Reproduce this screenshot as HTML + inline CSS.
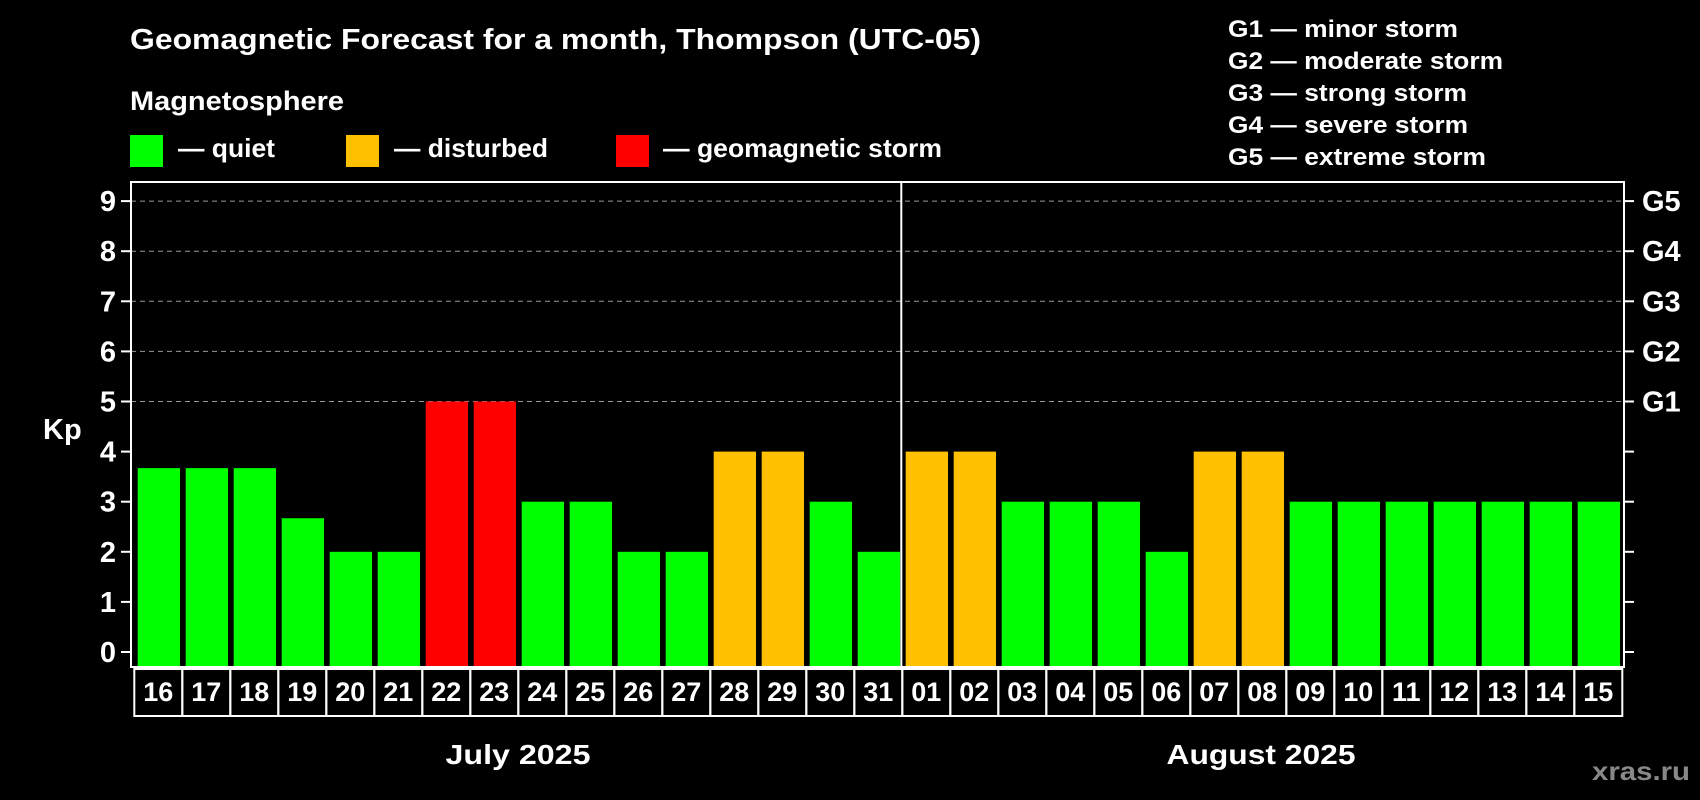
<!DOCTYPE html>
<html><head><meta charset="utf-8"><style>
html,body{margin:0;padding:0;background:#000;}
svg{display:block;font-family:"Liberation Sans",Arial,sans-serif;font-weight:bold;}
</style></head><body>
<svg id="chart" width="1700" height="800" viewBox="0 0 1700 800" xmlns="http://www.w3.org/2000/svg">
<rect width="1700" height="800" fill="#000"/>
<text x="130" y="49" font-size="29" fill="#fff" textLength="851" lengthAdjust="spacingAndGlyphs">Geomagnetic Forecast for a month, Thompson (UTC-05)</text>
<text x="130" y="110" font-size="27" fill="#fff" textLength="214" lengthAdjust="spacingAndGlyphs">Magnetosphere</text>
<g>
<rect x="130" y="135" width="33" height="32" fill="#00ff00"/>
<text x="178" y="157" font-size="26" fill="#fff" textLength="97" lengthAdjust="spacingAndGlyphs">— quiet</text></g>
<g>
<rect x="346" y="135" width="33" height="32" fill="#ffc000"/>
<text x="394" y="157" font-size="26" fill="#fff" textLength="154" lengthAdjust="spacingAndGlyphs">— disturbed</text></g>
<g>
<rect x="616" y="135" width="33" height="32" fill="#ff0000"/>
<text x="663" y="157" font-size="26" fill="#fff" textLength="279" lengthAdjust="spacingAndGlyphs">— geomagnetic storm</text></g>
<g font-size="24" fill="#fff">
<text x="1228" y="37" textLength="230" lengthAdjust="spacingAndGlyphs">G1 — minor storm</text>
<text x="1228" y="69" textLength="275" lengthAdjust="spacingAndGlyphs">G2 — moderate storm</text>
<text x="1228" y="101" textLength="239" lengthAdjust="spacingAndGlyphs">G3 — strong storm</text>
<text x="1228" y="133" textLength="240" lengthAdjust="spacingAndGlyphs">G4 — severe storm</text>
<text x="1228" y="165" textLength="258" lengthAdjust="spacingAndGlyphs">G5 — extreme storm</text>
</g>
<g id="grid"></g>
<g id="bars"></g>
<g id="axes"></g>
<text x="43" y="439" font-size="29" fill="#fff">Kp</text>
<text x="518" y="764" font-size="28" fill="#fff" text-anchor="middle" textLength="145" lengthAdjust="spacingAndGlyphs">July 2025</text>
<text x="1261" y="764" font-size="28" fill="#fff" text-anchor="middle" textLength="189" lengthAdjust="spacingAndGlyphs">August 2025</text>
<text x="1690" y="780" font-size="26" fill="#888" text-anchor="end" textLength="98" lengthAdjust="spacingAndGlyphs">xras.ru</text>
</svg>
<script>
const days = ["16","17","18","19","20","21","22","23","24","25","26","27","28","29","30","31","01","02","03","04","05","06","07","08","09","10","11","12","13","14","15"];
const kpValues = [3.67,3.67,3.67,2.67,2,2,5,5,3,3,2,2,4,4,3,2,4,4,3,3,3,2,4,4,3,3,3,3,3,3,3];
const yTicks = [0,1,2,3,4,5,6,7,8,9];
const gLabels = ["","","","","","G1","G2","G3","G4","G5"];

const NS = "http://www.w3.org/2000/svg";
const L = 131, R = 1624, T = 182, B = 667;
const y0 = 652, unit = 50.1;
const step = 48, boxStart = 134.3;
function yScale(v){ return y0 - v*unit; }
function xBox(i){ return boxStart + i*step; }
function mk(tag, attrs, parent){ const e=document.createElementNS(NS,tag); for(const k in attrs) e.setAttribute(k,attrs[k]); parent.appendChild(e); return e; }
function color(v){ return v>=5 ? "#ff0000" : (v>=4 ? "#ffc000" : "#00ff00"); }

const grid = document.getElementById("grid");
const bars = document.getElementById("bars");
const axes = document.getElementById("axes");

yTicks.forEach((t,i)=>{
  const y = yScale(t);
  if (t>=5) {
    const g = mk("line",{x1:L,x2:R,y1:y,y2:y,stroke:"#999","stroke-width":1,"stroke-dasharray":"5,4"},grid);
    
    
  }
  mk("line",{x1:L-10,x2:L,y1:y,y2:y,stroke:"#fff","stroke-width":2},axes);
  mk("line",{x1:R,x2:R+10,y1:y,y2:y,stroke:"#fff","stroke-width":2},axes);
  const lab = mk("text",{x:116,y:y+10,"font-size":29,fill:"#fff","text-anchor":"end"},axes);
  lab.textContent = t;
  
  
  if (gLabels[i]) {
    const gl = mk("text",{x:1642,y:y+10,"font-size":29,fill:"#fff"},axes);
    gl.textContent = gLabels[i];
    
    
  }
});

kpValues.forEach((v,i)=>{
  const x = xBox(i) + 3.4;
  const top = yScale(v);
  const r = mk("rect",{x:x,y:top,width:42.3,height:B-top,fill:color(v)},bars);
  
  
});

const frame = mk("rect",{x:L,y:T,width:R-L,height:B-T,fill:"none",stroke:"#fff","stroke-width":2},axes);


const sepX = xBox(16) - 1;
const sep = mk("line",{x1:sepX,x2:sepX,y1:T,y2:B,stroke:"#fff","stroke-width":2},axes);



days.forEach((d,i)=>{
  const bx = xBox(i);
  const box = mk("rect",{x:bx,y:669,width:step,height:47,fill:"none",stroke:"#fff","stroke-width":2},axes);
  
  
  const t = mk("text",{x:bx+step/2,y:701,"font-size":27,fill:"#fff","text-anchor":"middle"},axes);
  t.textContent = d;
  
  
});
</script>
</body></html>
